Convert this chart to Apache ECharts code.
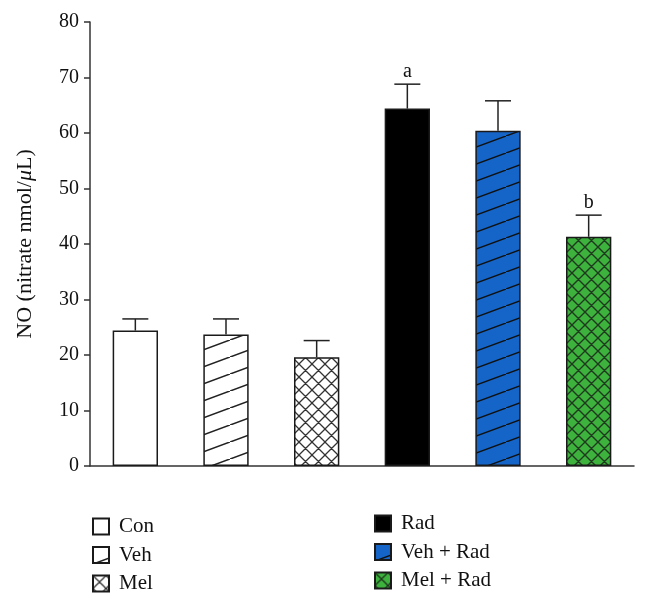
<!DOCTYPE html>
<html>
<head>
<meta charset="utf-8">
<script src="https://cdn.jsdelivr.net/npm/echarts@6/dist/echarts.min.js"></script>
<style>
html,body{margin:0;padding:0;background:#fff;}
#main{width:648px;height:603px;}
</style>
</head>
<body>
<div id="main"></div>
<script>
// 数据
var groups = ['Con', 'Veh', 'Mel', 'Rad', 'Veh + Rad', 'Mel + Rad'];
var means = [24.4, 23.7, 19.6, 64.4, 60.4, 41.3];
var errTop = [26.5, 26.5, 22.6, 68.8, 65.8, 45.2];
var sigLabels = ['', '', '', 'a', '', 'b'];
var yTicks = [0, 10, 20, 30, 40, 50, 60, 70, 80];

var serif = '"Liberation Serif","DejaVu Serif",serif';

//斜线图案
function hatch(bg, w, h, lw, line) {
    var c = document.createElement('canvas');
    c.width = w; c.height = h;
    var ctx = c.getContext('2d');
    ctx.fillStyle = bg;
    ctx.fillRect(0, 0, w, h);
    ctx.strokeStyle = line;
    ctx.lineWidth = lw;
    ctx.beginPath();
    for (var i = -1; i <= 1; i++) {
        ctx.moveTo(i * w, h - i * h);
        ctx.lineTo(w + i * w, -i * h);
    }
    ctx.stroke();
    return {image: c, repeat: 'repeat'};
}

//网格图案
function cross(bg, p, lw, line) {
    var c = document.createElement('canvas');
    c.width = p; c.height = p;
    var ctx = c.getContext('2d');
    ctx.fillStyle = bg;
    ctx.fillRect(0, 0, p, p);
    ctx.strokeStyle = line;
    ctx.lineWidth = lw;
    ctx.beginPath();
    for (var i = -1; i <= 1; i++) {
        ctx.moveTo(i * p, 0); ctx.lineTo(p + i * p, p);
        ctx.moveTo(i * p, p); ctx.lineTo(p + i * p, 0);
    }
    ctx.stroke();
    return {image: c, repeat: 'repeat'};
}

var fills = [
    '#ffffff',
    hatch('#ffffff', 46, 17, 1.6, '#222'),
    cross('#ffffff', 13, 1.3, '#333'),
    '#000000',
    hatch('#1565c8', 46, 17, 1.4, '#111'),
    cross('#3db23d', 13, 1.4, '#1f3a1f')
];

var series = [];
for (var k = 0; k < groups.length; k++) {
    var d = [];
    for (var j = 0; j < groups.length; j++) d.push(j === k ? means[k] : '-');
    series.push({
        name: groups[k],
        type: 'bar',
        barWidth: '50%',
        barGap: '-100%',
        data: d,
        itemStyle: {color: fills[k], borderColor: '#1a1a1a', borderWidth: 1.5},
        emphasis: {disabled: true},
        silent: true
    });
}

//误差线
series.push({
    type: 'custom',
    silent: true,
    z: 5,
    data: groups.map(function (g, i) { return [i, means[i], errTop[i]]; }),
    renderItem: function (params, api) {
        var i = api.value(0);
        var p0 = api.coord([i, api.value(1)]);
        var p1 = api.coord([i, api.value(2)]);
        var cw = 13;
        var st = {stroke: '#222', lineWidth: 1.5};
        var children = [
            {type: 'line', shape: {x1: p0[0], y1: p0[1], x2: p1[0], y2: p1[1]}, style: st},
            {type: 'line', shape: {x1: p1[0] - cw, y1: p1[1], x2: p1[0] + cw, y2: p1[1]}, style: st}
        ];
        var lab = sigLabels[params.dataIndex];
        if (lab) {
            children.push({
                type: 'text',
                style: {text: lab, x: p1[0], y: p1[1] - 2, align: 'center', verticalAlign: 'bottom',
                    font: '20px ' + serif, fill: '#111'}
            });
        }
        return {type: 'group', children: children};
    }
});

var legendBase = {
    orient: 'vertical',
    icon: 'rect',
    itemWidth: 16,
    itemHeight: 16,
    itemGap: 7.5,
    padding: 0,
    selectedMode: false,
    textStyle: {fontFamily: serif, fontSize: 21, lineHeight: 18, color: '#111', padding: [0, 0, 0, 5]}
};

var myChart = echarts.init(document.getElementById('main'));
var option = {
    animation: false,
    backgroundColor: '#fff',
    grid: {left: 90, right: 14, top: 22, bottom: 137},
    legend: [
        Object.assign({}, legendBase, {left: 92, top: 516, data: ['Con', 'Veh', 'Mel']}),
        Object.assign({}, legendBase, {left: 374, top: 513, data: ['Rad', 'Veh + Rad', 'Mel + Rad']})
    ],
    xAxis: {
        type: 'category',
        data: groups,
        axisLine: {lineStyle: {color: '#333', width: 1.5}},
        axisTick: {show: false},
        axisLabel: {show: false}
    },
    yAxis: {
        type: 'value',
        min: yTicks[0],
        max: yTicks[yTicks.length - 1],
        interval: 10,
        name: 'NO (nitrate nmol/{i|μ}L)',
        nameLocation: 'middle',
        nameGap: 54,
        nameTextStyle: {fontFamily: serif, fontSize: 22, color: '#111',
            rich: {i: {fontFamily: serif, fontSize: 22, fontStyle: 'italic', color: '#111'}}},
        splitLine: {show: false},
        axisLine: {show: true, lineStyle: {color: '#333', width: 1.5}},
        axisTick: {show: true, length: 6, lineStyle: {color: '#333', width: 1.5}},
        axisLabel: {fontFamily: serif, fontSize: 20, color: '#111', margin: 11}
    },
    series: series
};
myChart.setOption(option);
</script>
</body>
</html>
